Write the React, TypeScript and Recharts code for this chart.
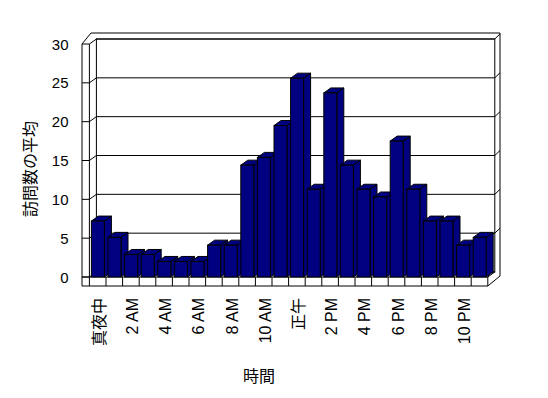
import { BarChart, Bar, XAxis, YAxis, CartesianGrid } from 'recharts'

// 時間帯ごとの訪問数の平均
const hours = [
  '真夜中', '1 AM', '2 AM', '3 AM', '4 AM', '5 AM', '6 AM', '7 AM', '8 AM', '9 AM', '10 AM', '11 AM',
  '正午', '1 PM', '2 PM', '3 PM', '4 PM', '5 PM', '6 PM', '7 PM', '8 PM', '9 PM', '10 PM', '11 PM',
]
const visits = [
  7.2, 5.1, 2.9, 2.9, 2.0, 2.0, 2.0, 4.1, 4.1, 14.4, 15.4, 19.5,
  25.6, 11.3, 23.7, 14.4, 11.3, 10.3, 17.5, 11.3, 7.2, 7.2, 4.1, 5.1,
]
const valueTicks = [0, 5, 10, 15, 20, 25, 30]

const data = hours.map((h, i) => ({ hour: h, visits: visits[i] }))

const W = 548
const H = 398
const FONT = '"Liberation Sans", "Noto Sans CJK JP", sans-serif'
const NAVY = '#000080'

// plot (front plane) box
const L = 89.4
const R = 487.8
const T = 44
const B = 277
const DX = 7 // depth offset
const DY = 5
const SLAB = 7.4

function Bar3D(props: any) {
  const { x, y, width, height } = props
  if (!height || height <= 0) return null
  const top = `${x},${y} ${x + DX},${y - DY} ${x + width + DX},${y - DY} ${x + width},${y}`
  const side = `${x + width},${y} ${x + width + DX},${y - DY} ${x + width + DX},${y + height - DY} ${x + width},${y + height}`
  return (
    <g>
      <polygon points={side} fill={NAVY} stroke="#000" strokeWidth={1} />
      <polygon points={top} fill={NAVY} stroke="#000" strokeWidth={1} />
      <rect x={x} y={y} width={width} height={height} fill={NAVY} stroke="#000" strokeWidth={1} />
    </g>
  )
}

function GridLine3D(props: any) {
  const { x1, y1, x2 } = props
  const by = y1 - DY
  const bx = x1 + DX
  const ex = x2 + DX
  const atFloor = Math.abs(y1 - B) < 1
  return (
    <g key={props.key} stroke="#000" strokeWidth={1}>
      <line x1={x1 - SLAB} y1={y1} x2={x1} y2={y1} />
      <line x1={x1} y1={y1} x2={bx} y2={by} />
      <line x1={bx} y1={by} x2={ex} y2={by} />
      {!atFloor && <line x1={ex} y1={by} x2={ex + 5.2} y2={by - 5} />}
    </g>
  )
}

function ValueTick(props: any) {
  const { y, payload } = props
  return (
    <text x={68.5} y={y} textAnchor="end" dominantBaseline="central" fontSize={15} fontFamily={FONT} fill="#000">
      {payload.value}
    </text>
  )
}

function HourTick(props: any) {
  const { x, y, payload, index } = props
  const half = payload.offset || 8.3
  const tx = x + 1.5
  const ty = y + 21
  return (
    <g>
      <line x1={x - half} y1={y} x2={x - half} y2={y + 9} stroke="#000" strokeWidth={1} />
      {index % 2 === 0 && (
        <text
          x={tx}
          y={ty}
          transform={`rotate(-90 ${tx} ${ty})`}
          textAnchor="end"
          dominantBaseline="central"
          fontSize={16}
          fontFamily={FONT}
          fill="#000"
        >
          {payload.value}
        </text>
      )}
    </g>
  )
}

function Walls() {
  return (
    <svg width={W} height={H} style={{ position: 'absolute', left: 0, top: 0 }}>
      <g fill="#fff" stroke="#000" strokeWidth={1}>
        <polygon points={`82,286 82,${T} 91,33 500,33 500,276 ${R},286`} />
        <rect x={L + DX} y={T - DY} width={R - L} height={B - T} />
        <line x1={L} y1={T} x2={L} y2={B} />
        <line x1={82} y1={B} x2={R} y2={B} />
        <line x1={R} y1={B} x2={R + DX} y2={B - DY} />
        <line x1={R} y1={B} x2={R} y2={286} />
      </g>
      <text
        x={30}
        y={169}
        transform="rotate(-90 30 169)"
        textAnchor="middle"
        dominantBaseline="central"
        fontSize={16}
        fontFamily={FONT}
        fill="#000"
      >
        訪問数の平均
      </text>
      <text x={259} y={376} textAnchor="middle" dominantBaseline="central" fontSize={16} fontFamily={FONT} fill="#000">
        時間
      </text>
    </svg>
  )
}

export default function App() {
  return (
    <div style={{ position: 'absolute', left: 0, top: 0, width: W, height: H, background: '#fff' }}>
      <Walls />
      <div style={{ position: 'absolute', left: 0, top: 0 }}>
        <BarChart width={W} height={H} data={data} margin={{ top: T, right: W - R, bottom: 0, left: 0 }}>
          <CartesianGrid vertical={false} horizontal={GridLine3D} fill="none" />
          <XAxis
            dataKey="hour"
            height={H - B}
            interval={0}
            tickSize={0}
            tickMargin={0}
            axisLine={false}
            tickLine={false}
            tick={HourTick}
          />
          <YAxis
            width={L}
            domain={[0, 30]}
            ticks={valueTicks}
            tickSize={0}
            axisLine={false}
            tickLine={false}
            tick={ValueTick}
          />
          <Bar dataKey="visits" barSize={13} shape={Bar3D} isAnimationActive={false} />
        </BarChart>
      </div>
    </div>
  )
}
